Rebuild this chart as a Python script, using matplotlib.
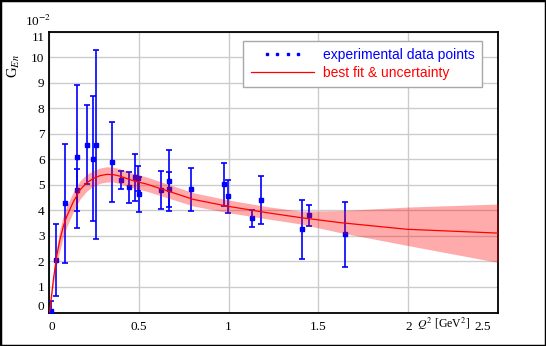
import matplotlib
matplotlib.use("Agg")
import matplotlib.pyplot as plt
from matplotlib.lines import Line2D
from matplotlib.patches import Rectangle
from matplotlib.legend_handler import HandlerLine2D
from matplotlib.transforms import ScaledTranslation

plt.rcParams['font.family'] = ['Liberation Serif', 'DejaVu Serif']
plt.rcParams['mathtext.fontset'] = 'stix'

# experimental points: Q^2, G_En (x 10^-2), error
q_exp = [0.013, 0.041, 0.091, 0.157, 0.157, 0.215, 0.248, 0.261, 0.354, 0.402,
         0.449, 0.480, 0.499, 0.500, 0.627, 0.671, 0.671, 0.794, 0.977, 0.999,
         1.133, 1.178, 1.406, 1.450, 1.645]
g_exp = [0.05, 2.07, 4.28, 6.11, 4.79, 6.58, 6.03, 6.58, 5.90, 5.19,
         4.90, 5.29, 5.25, 4.63, 4.80, 5.17, 4.82, 4.82, 5.02, 4.55,
         3.69, 4.39, 3.26, 3.81, 3.07]
g_err = [0.42, 1.41, 2.34, 2.80, 0.83, 1.56, 2.45, 3.70, 1.57, 0.37,
         0.62, 0.91, 0.48, 0.69, 0.74, 1.20, 0.70, 0.83, 0.85, 0.64,
         0.33, 0.94, 1.15, 0.41, 1.27]

# best fit curve and uncertainty band
q_fit = [0.0, 0.007, 0.026, 0.044, 0.063, 0.081, 0.100, 0.137, 0.174, 0.211,
         0.248, 0.285, 0.323, 0.360, 0.397, 0.471, 0.545, 0.805, 0.990, 1.213,
         1.398, 1.621, 1.992, 2.500]
g_fit = [0.0, 0.12, 1.29, 2.20, 2.87, 3.37, 3.76, 4.34, 4.80, 5.08,
         5.25, 5.36, 5.41, 5.40, 5.34, 5.16, 5.03, 4.43, 4.17, 3.91,
         3.72, 3.52, 3.26, 3.11]
g_lo = [0.0, 0.07, 1.09, 1.85, 2.45, 2.95, 3.35, 3.95, 4.44, 4.75,
        4.94, 5.06, 5.11, 5.11, 5.05, 4.88, 4.75, 4.17, 3.92, 3.67,
        3.47, 3.13, 2.63, 1.96]
g_hi = [0.0, 0.17, 1.49, 2.55, 3.29, 3.79, 4.17, 4.73, 5.16, 5.41,
        5.56, 5.66, 5.71, 5.69, 5.63, 5.44, 5.31, 4.69, 4.42, 4.15,
        3.97, 3.99, 4.13, 4.25]

xticks = [0, 0.5, 1, 1.5, 2, 2.5]
xlabels = ['0', '0.5', '1', '1.5', '2', '2.5']
yticks = list(range(0, 12))

fig = plt.figure(figsize=(5.46, 3.46), dpi=100)
ax = fig.add_axes([0.0892, 0.0968, 0.8234, 0.8116])

ax.errorbar(q_exp, g_exp, yerr=g_err, fmt='s', color='blue', ms=2.6,
            elinewidth=1.2, capsize=2.0, capthick=1.2, zorder=3)
ax.fill_between(q_fit, g_lo, g_hi, color='red', alpha=0.33, lw=0, zorder=4)
ax.plot(q_fit, g_fit, color='red', lw=0.9, zorder=5)

ax.set_xlim(0, 2.5)
ax.set_ylim(0, 11)
ax.set_xticks(xticks, xlabels)
ax.set_yticks(yticks)
ax.grid(True, color='#cccccc', lw=1.0)
ax.set_axisbelow(True)
ax.tick_params(length=0, labelsize=9.5)
ax.tick_params(axis='x', pad=6)
ax.tick_params(axis='y', pad=3)
for s in ax.spines.values():
    s.set_linewidth(1.3)

xl = ax.get_xticklabels()
xl[0].set_ha('left')
xl[-1].set_ha('right')
xl[-1].set_transform(xl[-1].get_transform() + ScaledTranslation(-5 / 72, 0, fig.dpi_scale_trans))
yl = ax.get_yticklabels()
yl[0].set_va('bottom')
yl[-1].set_va('top')

fig.text(0.812, 0.063, r'$Q^2$ [GeV$^2$]', ha='center', va='center', fontsize=8.5)
fig.text(0.026, 0.81, r'G$_{En}$', rotation=90, ha='center', va='center', fontsize=10.5)
fig.text(0.069, 0.937, r'10$^{-2}$', ha='center', va='center', fontsize=9.5)

h_exp = Line2D([], [], color='blue', marker='s', ms=2.1, ls='none')
h_fit = Line2D([], [], color='red', lw=0.9)
leg = ax.legend([h_exp, h_fit], ['experimental data points', 'best fit & uncertainty'],
                loc='upper left', bbox_to_anchor=(0.432, 0.968), borderaxespad=0,
                prop={'family': 'Liberation Sans', 'size': 10},
                handlelength=4.6, handletextpad=0.6, labelspacing=0.25,
                borderpad=0.55, fancybox=False, framealpha=1, edgecolor='#a8a8a8',
                handler_map={h_exp: HandlerLine2D(numpoints=4, marker_pad=1.15)})
leg.get_frame().set_linewidth(1.0)
leg.get_texts()[0].set_color('blue')
leg.get_texts()[1].set_color('red')

fig.patches.append(Rectangle((0, 0), 1, 1, transform=fig.transFigure, fill=False,
                             edgecolor='black', lw=2.5))

fig.savefig('out.png', dpi=100)
